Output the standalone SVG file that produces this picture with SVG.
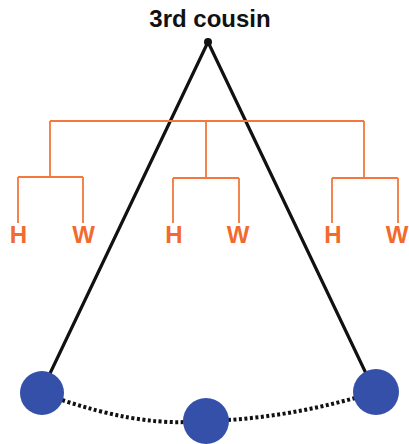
<svg xmlns="http://www.w3.org/2000/svg" width="409" height="444" viewBox="0 0 409 444">
  <style>
    .title { font-family: "Liberation Sans", Arial, sans-serif; font-weight: bold; font-size: 24px; fill: #111; }
    .hw { font-family: "Liberation Sans", Arial, sans-serif; font-weight: bold; font-size: 24px; fill: #F26A2E; text-anchor: middle; }
    .tree { fill: none; stroke: #F4773C; stroke-width: 1.8; }
    .leg { fill: none; stroke: #111; stroke-width: 3.2; stroke-linecap: round; }
    .dots { fill: none; stroke: #111; stroke-width: 4; stroke-dasharray: 3 2.5; }
    .person { fill: #3550A8; }
  </style>
  <rect width="409" height="444" fill="#fff"/>

  <text class="title" x="210" y="27" text-anchor="middle">3rd cousin</text>

  <!-- connectors -->
  <g id="connectors">
    <path class="leg" d="M208 42 L44 386"/>
    <path class="leg" d="M208 42 L372 386"/>
    <path class="dots" d="M62 400 Q134 424 186 422"/>
    <path class="dots" d="M228 420 Q290 416 355 398"/>
    <!-- family tree -->
    <path class="tree" d="M50 121 H364 M50 121 V177 M18 177 H83 M18 177 V223 M83 177 V223"/>
    <path class="tree" d="M206 121 V178 M173 178 H239 M173 178 V223 M239 178 V223"/>
    <path class="tree" d="M364 121 V178 M332 178 H398 M332 178 V223 M398 178 V223"/>
  </g>

  <g id="apex"><circle cx="208" cy="42" r="4" fill="#111"/></g>

  <g id="left-couple">
    <text class="hw" x="18.5" y="243">H</text>
    <text class="hw" x="83.5" y="243">W</text>
  </g>
  <g id="middle-couple">
    <text class="hw" x="174" y="243">H</text>
    <text class="hw" x="238" y="243">W</text>
  </g>
  <g id="right-couple">
    <text class="hw" x="333" y="243">H</text>
    <text class="hw" x="397" y="243">W</text>
  </g>

  <g id="person-left"><circle class="person" cx="42" cy="393" r="22"/></g>
  <g id="person-middle"><circle class="person" cx="206" cy="421" r="23"/></g>
  <g id="person-right"><circle class="person" cx="376" cy="392" r="23"/></g>
</svg>
